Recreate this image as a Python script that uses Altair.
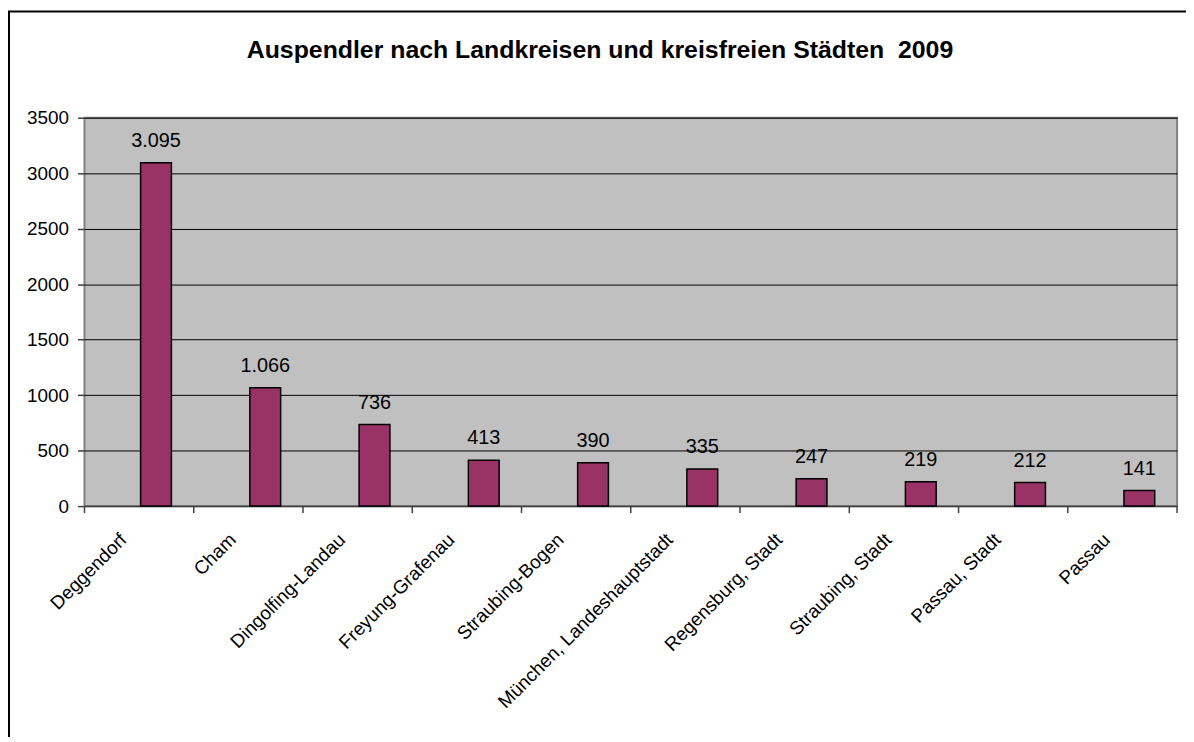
import altair as alt
import pandas as pd

categories = [
    "Deggendorf",
    "Cham",
    "Dingolfing-Landau",
    "Freyung-Grafenau",
    "Straubing-Bogen",
    "München, Landeshauptstadt",
    "Regensburg, Stadt",
    "Straubing, Stadt",
    "Passau, Stadt",
    "Passau",
]
values = [3095, 1066, 736, 413, 390, 335, 247, 219, 212, 141]
labels = [f"{v:,}".replace(",", ".") for v in values]
y_ticks = [0, 500, 1000, 1500, 2000, 2500, 3000, 3500]
title_text = "Auspendler nach Landkreisen und kreisfreien Städten \u00a02009"

df = pd.DataFrame({"Kreis": categories, "Auspendler": values, "Label": labels})

W, H = 1100, 391
FONT = "Liberation Sans"

xscale = alt.Scale(domain=categories, paddingInner=0, paddingOuter=0)
yscale = alt.Scale(domain=[0, 3500], nice=False)

x_axis = alt.Axis(
    title=None, labelAngle=-45, labelAlign="right", labelBaseline="top",
    labelPadding=24, labelOffset=-22, labelFontSize=19, labelFont=FONT,
    labelColor="black", ticks=False, domainColor="#404040", domainWidth=1.5,
    grid=False, labelOverlap=False, labelLimit=0,
)
y_axis = alt.Axis(
    title=None, values=y_ticks, format="d", grid=True, gridColor="black",
    gridWidth=1, tickSize=7, tickColor="#404040", tickWidth=1.5,
    labelPadding=9, labelFontSize=19, labelFont=FONT, labelColor="black",
    domain=False,
)

x_enc = alt.X("Kreis:N", sort=categories, scale=xscale, axis=x_axis)
y_enc = alt.Y("Auspendler:Q", scale=yscale, axis=y_axis)

one = pd.DataFrame({"a": [0]})

border = alt.Chart(one).mark_rect(
    fillOpacity=0, stroke="black", strokeWidth=2
).encode(
    x=alt.value(-76), x2=alt.value(1300), y=alt.value(-107), y2=alt.value(900)
)

bars = alt.Chart(df).mark_bar(
    size=31, xOffset=17, color="#993366", stroke="black", strokeWidth=1.5
).encode(x=x_enc, y=y_enc)

ticks = alt.Chart(df).mark_rule(color="#404040", strokeWidth=1.5).encode(
    x=alt.X("Kreis:N", sort=categories, bandPosition=0),
    y=alt.value(H), y2=alt.value(H + 7),
)
end_tick = alt.Chart(one).mark_rule(color="#404040", strokeWidth=1.5).encode(
    x=alt.value(W), y=alt.value(H), y2=alt.value(H + 7)
)

text = alt.Chart(df).mark_text(
    xOffset=17, dy=-16, baseline="alphabetic", fontSize=20, font=FONT, color="black"
).encode(
    x=alt.X("Kreis:N", sort=categories),
    y=alt.Y("Auspendler:Q"),
    text="Label:N",
)

title = alt.Chart(pd.DataFrame({"t": [title_text]})).mark_text(
    fontSize=25, fontWeight="bold", font=FONT, align="center",
    baseline="alphabetic", color="black"
).encode(x=alt.value(604 - 85), y=alt.value(56 - 116), text="t:N")

chart = alt.layer(border, bars, ticks, end_tick, text, title).properties(
    width=W, height=H,
    autosize=alt.AutoSizeParams(type="none"),
    padding={"left": 77, "top": 108, "right": 9, "bottom": 230},
    background="white",
).configure_view(fill="#C0C0C0", stroke="#808080", strokeWidth=2)

chart.save("out.html", embed_options={"renderer": "svg", "actions": False})
